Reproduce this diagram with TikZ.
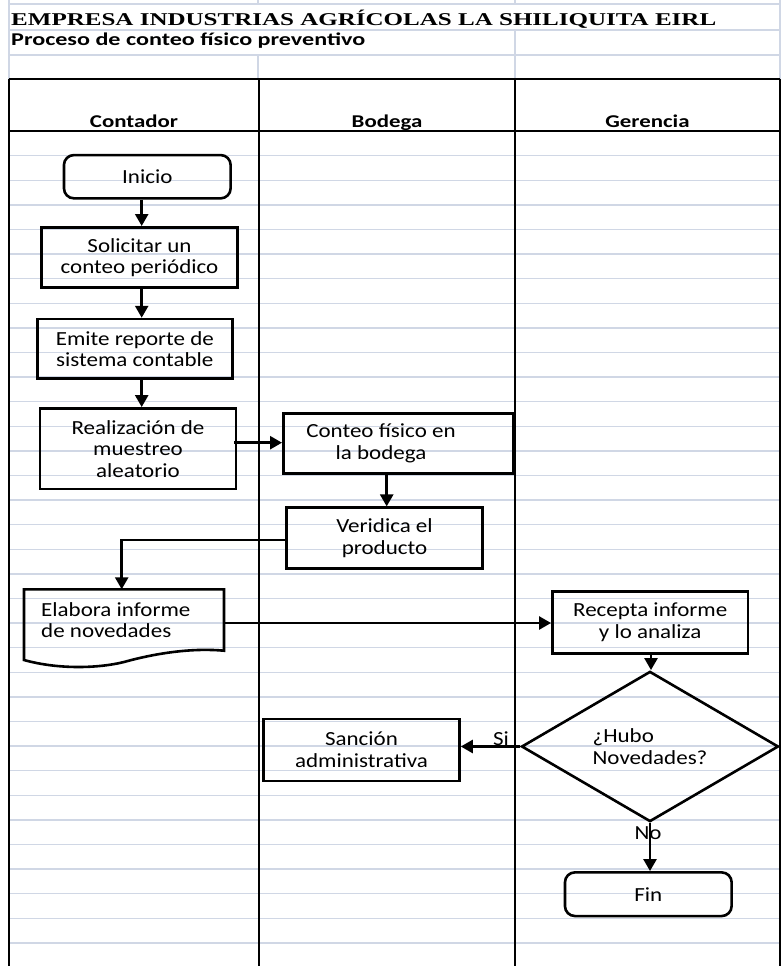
\documentclass[tikz,border=0pt]{standalone}
\usepackage{fontspec}
\setmainfont{Carlito}
\newfontfamily\boxfont[FakeStretch=1.15]{Carlito}
\newfontfamily\lanefont[FakeStretch=1.27]{Carlito}
\newfontfamily\subfont[FakeStretch=1.34]{Carlito}
\newfontfamily\titlefont[FakeStretch=1.39]{Liberation Serif}
\usetikzlibrary{arrows.meta,shapes.geometric}

\definecolor{gridc}{HTML}{D0D7E5}

\tikzset{
  gridline/.style={draw=gridc, line width=1.5pt},
  laneline/.style={draw=black, line width=2.6pt},
  boxtext/.style={font=\boxfont\fontsize{20}{21.5}\selectfont},
  stepbox/.style={draw=black, line width=2.6pt, rectangle, inner sep=0pt,
    align=center, boxtext},
  termbox/.style={stepbox, rounded corners=10pt},
  decbox/.style={draw=black, line width=2.6pt, diamond, inner sep=0pt,
    align=left, boxtext},
  flow/.style={draw=black, line width=2.6pt, -{Triangle[width=13pt,length=12pt]}},
  lanehead/.style={anchor=base, inner sep=0pt, font=\lanefont\bfseries\fontsize{18}{20}\selectfont},
  flowlabel/.style={inner sep=0pt, boxtext}
}

\begin{document}
\begin{tikzpicture}[x=1pt,y=-1pt]
\useasboundingbox (0,0) rectangle (781,966);
\fill[white] (0,0) rectangle (781,966);

% spreadsheet grid: rows above the lanes
\foreach \yy in {4,30,55} \draw[gridline] (9,\yy) -- (781,\yy);
\draw[gridline] (9,0) -- (9,79);
\draw[gridline] (780,0) -- (780,79);
\draw[gridline] (258,0) -- (258,4);
\draw[gridline] (515,0) -- (515,4);
\draw[gridline] (258,55) -- (258,79);
\draw[gridline] (515,30) -- (515,79);

% spreadsheet grid: rows inside the lanes
\foreach \k in {0,...,32} \draw[gridline] (9,155.7+24.6*\k) -- (781,155.7+24.6*\k);

% title rows
\node[anchor=base west, inner sep=0pt, font=\titlefont\bfseries\fontsize{18}{20}\selectfont] (title) at (11,25.5)
  {EMPRESA INDUSTRIAS AGRÍCOLAS LA SHILIQUITA EIRL};
\node[anchor=base west, inner sep=0pt, font=\subfont\bfseries\fontsize{18}{20}\selectfont] (subtitle) at (11,45.5)
  {Proceso de conteo físico preventivo};

% swimlane frame
\draw[laneline] (9,79) -- (780,79);
\draw[laneline] (9,131) -- (780,131);
\draw[laneline] (9,79) -- (9,966);
\draw[laneline] (259,79) -- (259,966);
\draw[laneline] (515,79) -- (515,966);
\draw[line width=2pt] (780,79) -- (780,966);

\node[lanehead] (h1) at (134,127) {Contador};
\node[lanehead] (h2) at (387,127) {Bodega};
\node[lanehead] (h3) at (647.5,127) {Gerencia};

% process steps
\node[termbox, minimum width=166.7pt, minimum height=43.3pt] (inicio) at (147.3,176.7) {Inicio};
\node[stepbox, minimum width=195.6pt, minimum height=60.4pt] (solic) at (139.5,257.5) {Solicitar un\\conteo periódico};
\node[stepbox, minimum width=195pt, minimum height=59.7pt] (emite) at (134.8,348.9) {Emite reporte de\\sistema contable};
\node[stepbox, minimum width=196pt, minimum height=80.7pt] (realiz) at (138,448.7) {Realización de\\muestreo\\aleatorio};
\node[stepbox, minimum width=230pt, minimum height=60pt] (conteo) at (398.3,443.3) {};
\node[boxtext, align=center, inner sep=0pt] (conteotxt) at (381,443.3) {Conteo físico en\\la bodega};
\node[stepbox, minimum width=195.6pt, minimum height=60.6pt] (verid) at (384.5,538) {Veridica el\\producto};

% document shape with a wavy bottom edge
\coordinate (docTL) at (24,589.3);
\coordinate (docTR) at (224,589.3);
\coordinate (docBR) at (224,650.7);
\coordinate (docBL) at (24,660);
\draw[line width=2.6pt, line join=miter] (docBL) -- (docTL) -- (docTR) -- (docBR)
  .. controls (195,648) and (160,652) .. (124,662)
  .. controls (100,668) and (60,670) .. (docBL) -- cycle;
\node[anchor=west, inner sep=0pt, align=left, boxtext] (elab) at (41,620)
  {Elabora informe\\de novedades};

\node[stepbox, minimum width=195.7pt, minimum height=61.8pt] (recep) at (650.2,622.3) {Recepta informe\\y lo analiza};
\node[decbox, minimum width=257pt, minimum height=107pt] (dec) at (650,746.5) {¿Hubo\\Novedades?};
\node[stepbox, minimum width=196pt, minimum height=62pt] (sanc) at (361.5,749.8) {Sanción\\administrativa};
\node[termbox, minimum width=166.7pt, minimum height=43.7pt] (fin) at (648.3,894.2) {Fin};

% connectors
\coordinate (colA) at (141.7,0);
\coordinate (colB) at (386.7,0);
\coordinate (colC) at (651,0);
\coordinate (turn) at (121.7,540);

\draw[flow] (inicio.south -| colA) -- (solic.north -| colA);
\draw[flow] (solic.south -| colA) -- (emite.north -| colA);
\draw[flow] (emite.south -| colA) -- (realiz.north -| colA);
\draw[flow] ([xshift=-3pt]realiz.east |- 0,442.7) -- (conteo.west |- 0,442.7);
\draw[flow] (conteo.south -| colB) -- (verid.north -| colB);
\draw[flow] (verid.west |- turn) -- (turn) -- (docTL -| turn);
\draw[flow] (docTR |- 0,623) -- (recep.west |- 0,623);
\draw[flow] (recep.south -| colC) -- (dec.north -| colC);
\draw[flow] (dec.west) -- (sanc.east |- dec.west);
\draw[flow] (dec.south) -- (fin.north -| dec.south);

\node[flowlabel] (si) at (501,739) {Si};
\node[flowlabel] (no) at (648,833) {No};
\end{tikzpicture}
\end{document}
